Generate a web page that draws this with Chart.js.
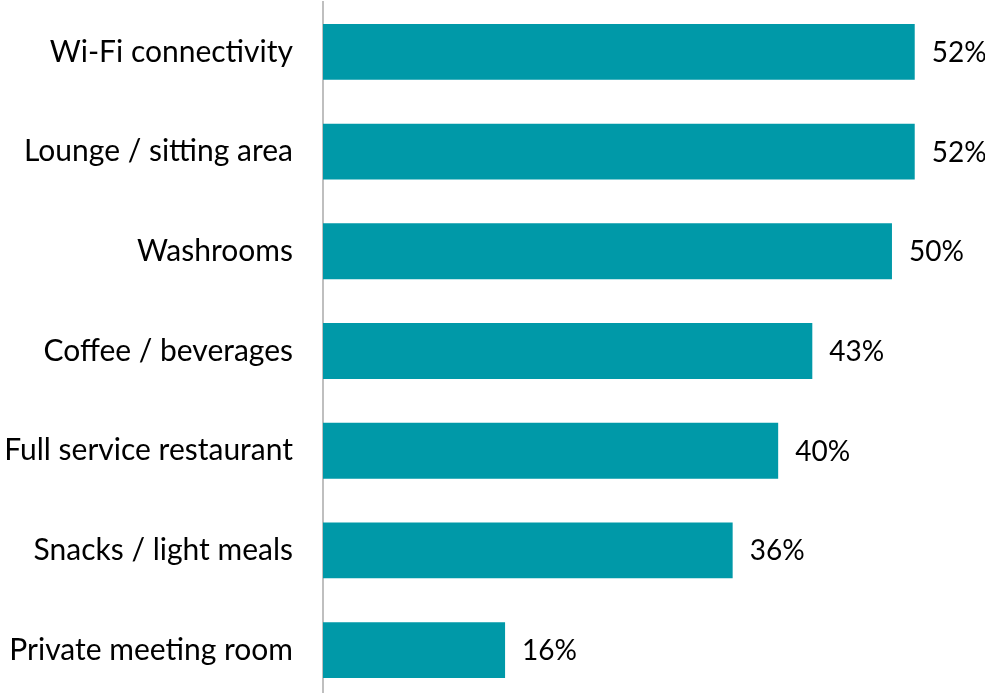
<!DOCTYPE html>
<html>
<head>
<meta charset="utf-8">
<script src="https://cdn.jsdelivr.net/npm/chart.js@4"></script>
<style>
  html, body { margin: 0; padding: 0; overflow: hidden; background: #fff; }
  #wrap { position: absolute; left: 0; top: 0; width: 985px; height: 700px; }
</style>
</head>
<body>
<div id="wrap"><canvas id="chart"></canvas></div>
<script>
// amenities and share of respondents (%)
const amenities = [
  "Wi-Fi connectivity",
  "Lounge / sitting area",
  "Washrooms",
  "Coffee / beverages",
  "Full service restaurant",
  "Snacks / light meals",
  "Private meeting room",
];
const shares = [52, 52, 50, 43, 40, 36, 16];

const FONT = "Lato, 'Open Sans', sans-serif";

// value labels drawn right of each bar
const barLabels = {
  id: "barLabels",
  afterDatasetsDraw(chart) {
    const ctx = chart.ctx;
    const meta = chart.getDatasetMeta(0);
    ctx.save();
    ctx.font = "28px " + FONT;
    ctx.fillStyle = "#000";
    ctx.textAlign = "left";
    ctx.textBaseline = "middle";
    meta.data.forEach((bar, i) => {
      ctx.fillText(shares[i] + "%", bar.x + 17, bar.y + 1);
    });
    ctx.restore();
  },
};

new Chart(document.querySelector("#chart"), {
  type: "bar",
  data: {
    labels: amenities,
    datasets: [{
      data: shares,
      backgroundColor: "#0099A8",
      barPercentage: 0.56,
      categoryPercentage: 1,
    }],
  },
  options: {
    indexAxis: "y",
    responsive: true,
    maintainAspectRatio: false,
    animation: false,
    layout: { padding: { top: 2, right: 2, left: 0, bottom: 0 } },
    plugins: { legend: { display: false }, tooltip: { enabled: false } },
    scales: {
      x: {
        display: false,
        min: 0,
        max: 58,
      },
      y: {
        grid: { display: false, drawTicks: false },
        border: { display: true, color: "#bfbfbf", width: 2 },
        ticks: {
          color: "#000",
          padding: 30,
          font: { family: FONT, size: 30 },
          autoSkip: false,
        },
        afterFit(scale) {
          // fixed label column, no extra room above/below the bars
          scale.width = 323;
          scale.paddingTop = 0;
          scale.paddingBottom = 0;
        },
      },
    },
  },
  plugins: [barLabels],
});
</script>
</body>
</html>
